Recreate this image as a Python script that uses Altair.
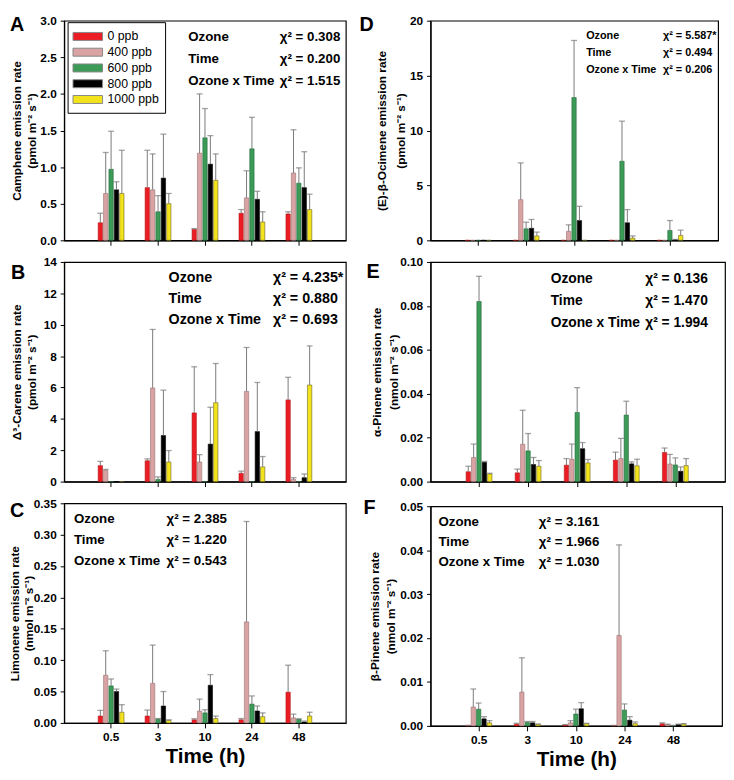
import altair as alt
import pandas as pd

FONT = "Liberation Sans, Arial, Helvetica, sans-serif"

TIMES = ["0.5", "3", "10", "24", "48"]
OZONE = ["0 ppb", "400 ppb", "600 ppb", "800 ppb", "1000 ppb"]
FILLS = ["#ec1c24", "#d9a3a3", "#3b9b57", "#000000", "#f2e31c"]
STROKES = ["#b01818", "#9a7070", "#22663a", "#000000", "#6b6420"]
STAT_TERMS = ["Ozone", "Time", "Ozone x Time"]

# ---- A: Camphene (pmol m-2 s-1); rows = ozone level, cols = time
camphene_mean = [
    [0.24, 0.72, 0.15, 0.37, 0.36],
    [0.64, 0.69, 1.19, 0.58, 0.92],
    [0.97, 0.39, 1.40, 1.25, 0.78],
    [0.69, 0.85, 1.04, 0.56, 0.72],
    [0.64, 0.50, 0.82, 0.25, 0.42],
]
camphene_se = [
    [0.13, 0.51, 0.01, 0.05, 0.03],
    [0.56, 0.49, 0.81, 0.37, 0.59],
    [0.52, 0.22, 0.40, 0.43, 0.21],
    [0.11, 0.60, 0.39, 0.11, 0.49],
    [0.59, 0.14, 0.36, 0.14, 0.21],
]
camphene_chi = ["0.308", "0.200", "1.515"]

# ---- B: delta3-Carene (pmol m-2 s-1)
carene_mean = [
    [1.02, 1.33, 4.38, 0.53, 5.21],
    [0.72, 5.97, 1.25, 5.75, 0.14],
    [0.0, 0.14, 0.0, 0.0, 0.0],
    [0.0, 2.94, 2.39, 3.19, 0.25],
    [0.0, 1.25, 5.03, 0.94, 6.16],
]
carene_se = [
    [0.27, 0.12, 2.94, 0.14, 1.44],
    [0.06, 3.73, 0.47, 2.80, 0.11],
    [0.0, 0.16, 0.0, 0.0, 0.0],
    [0.0, 2.89, 2.35, 3.13, 0.24],
    [0.0, 0.73, 2.50, 0.66, 2.49],
]
carene_chi = ["4.235*", "0.880", "0.693"]

# ---- C: Limonene (nmol m-2 s-1)
limonene_mean = [
    [0.011, 0.011, 0.005, 0.005, 0.049],
    [0.076, 0.063, 0.019, 0.161, 0.008],
    [0.059, 0.006, 0.016, 0.030, 0.006],
    [0.050, 0.027, 0.060, 0.019, 0.0015],
    [0.017, 0.004, 0.007, 0.010, 0.011],
]
limonene_se = [
    [0.009, 0.0095, 0.0017, 0.002, 0.043],
    [0.039, 0.061, 0.019, 0.160, 0.006],
    [0.011, 0.001, 0.005, 0.013, 0.0005],
    [0.004, 0.023, 0.017, 0.008, 0.0015],
    [0.012, 0.001, 0.004, 0.006, 0.006],
]
limonene_chi = ["2.385", "1.220", "0.543"]

# ---- D: (E)-beta-Ocimene (pmol m-2 s-1)
ocimene_mean = [
    [0.0, 0.0, 0.0, 0.0, 0.0],
    [0.0, 3.70, 0.82, 0.0, 0.0],
    [0.0, 1.05, 13.0, 7.20, 0.90],
    [0.0, 1.10, 1.80, 1.60, 0.05],
    [0.0, 0.40, 0.0, 0.20, 0.45],
]
ocimene_se = [
    [0.0, 0.0, 0.0, 0.0, 0.0],
    [0.0, 3.35, 0.59, 0.0, 0.0],
    [0.0, 0.60, 5.20, 3.65, 0.90],
    [0.0, 0.80, 1.30, 1.20, 0.03],
    [0.0, 0.35, 0.0, 0.20, 0.47],
]
ocimene_chi = ["5.587*", "0.494", "0.206"]

# ---- E: alpha-Pinene (nmol m-2 s-1)
apinene_mean = [
    [0.0045, 0.0040, 0.0075, 0.0098, 0.0133],
    [0.0110, 0.0170, 0.0102, 0.0105, 0.0080],
    [0.0820, 0.0140, 0.0315, 0.0303, 0.0076],
    [0.0088, 0.0078, 0.0150, 0.0081, 0.0047],
    [0.0035, 0.0070, 0.0085, 0.0072, 0.0073],
]
apinene_se = [
    [0.0025, 0.0017, 0.0030, 0.0036, 0.0020],
    [0.0061, 0.0155, 0.0069, 0.0092, 0.0044],
    [0.0115, 0.0079, 0.0113, 0.0063, 0.0032],
    [0.0004, 0.0032, 0.0028, 0.0009, 0.0020],
    [0.0003, 0.0026, 0.0016, 0.0030, 0.0032],
]
apinene_chi = ["0.136", "1.470", "1.994"]

# ---- F: beta-Pinene (nmol m-2 s-1)
bpinene_mean = [
    [0.0001, 0.0004, 0.0002, 0.0001, 0.0005],
    [0.0043, 0.0077, 0.0007, 0.0206, 0.0003],
    [0.0038, 0.0008, 0.0027, 0.0036, 0.0001],
    [0.0016, 0.0007, 0.0039, 0.0013, 0.0003],
    [0.0007, 0.0004, 0.0005, 0.0005, 0.0004],
]
bpinene_se = [
    [0.0, 0.0002, 0.0001, 0.0, 0.0002],
    [0.0041, 0.0078, 0.0005, 0.0206, 0.0001],
    [0.0014, 0.0002, 0.0011, 0.0014, 0.0],
    [0.0005, 0.0003, 0.0014, 0.0008, 0.0001],
    [0.0005, 0.0, 0.0001, 0.0004, 0.0001],
]
bpinene_chi = ["3.161", "1.966", "1.030"]

SWATCH = "M-1,-0.27H1V0.27H-1Z"
ONE = pd.DataFrame({"k": [0]})


def long_df(means, ses):
    rows = []
    for oi, oz in enumerate(OZONE):
        for ti, t in enumerate(TIMES):
            rows.append({"time": t, "ozone": oz, "mean": means[oi][ti], "se": ses[oi][ti]})
    return pd.DataFrame(rows)


def panel(p):
    df = long_df(p["mean"], p["se"])
    if p["bottom"]:
        xaxis = alt.Axis(labels=True, title="Time (h)", labelAngle=0, tickSize=5,
                         labelPadding=4, titleFontSize=21, titlePadding=3,
                         labelFontSize=12)
    else:
        xaxis = alt.Axis(labels=False, title=None, tickSize=5)
    x = alt.X("time:N", sort=TIMES,
              scale=alt.Scale(paddingInner=0.45, paddingOuter=0.725), axis=xaxis)
    xo = alt.XOffset("ozone:N", sort=OZONE,
                     scale=alt.Scale(paddingInner=0.2, paddingOuter=0.0))
    yscale = alt.Scale(domain=[0, p["ymax"]], nice=False, zero=True)
    fill = alt.Fill("ozone:N", sort=OZONE,
                    scale=alt.Scale(domain=OZONE, range=FILLS), legend=None)
    stroke = alt.Stroke("ozone:N", sort=OZONE,
                        scale=alt.Scale(domain=OZONE, range=STROKES), legend=None)
    yaxis = alt.Axis(values=p["yvals"], format=p["fmt"], title=p["ytitle"],
                     titleX=p["titleX"], titleLineHeight=p["tlh"], grid=False,
                     tickSize=4, labelPadding=4)

    base = alt.Chart(df)
    bars = base.mark_bar(strokeWidth=0.6).encode(
        x=x, xOffset=xo, y=alt.Y("mean:Q", scale=yscale, axis=yaxis),
        fill=fill, stroke=stroke)
    errs = base.transform_filter("datum.mean > 0").transform_calculate(
        upper="datum.mean + datum.se")
    rule = errs.mark_rule(color="#7a7a7a", strokeWidth=1).encode(
        x=x, xOffset=xo, y=alt.Y("mean:Q", scale=yscale, axis=yaxis), y2="upper:Q")
    cap = errs.mark_tick(color="#7a7a7a", thickness=1.3, size=6).encode(
        x=x, xOffset=xo, y=alt.Y("upper:Q", scale=yscale, axis=yaxis))

    a = p["ann"]
    labs = alt.Chart(ONE).mark_text(
        text="\n".join(STAT_TERMS), lineBreak="\n", align="left", baseline="middle",
        font=FONT, fontSize=a["fs"], fontWeight="bold", lineHeight=a["lh"],
        color="black").encode(x=alt.value(a["lx"]), y=alt.value(a["y0"]))
    chis = alt.Chart(ONE).mark_text(
        text="\n".join("\u03c7\u00b2 = " + v for v in p["chi"]), lineBreak="\n",
        align="left", baseline="middle", font=FONT, fontSize=a["fs"],
        fontWeight="bold", lineHeight=a["lh"], color="black").encode(
        x=alt.value(a["cx"]), y=alt.value(a["y0"]))
    letter = alt.Chart(ONE).mark_text(
        text=p["letter"], align="left", baseline="top", font=FONT, fontSize=20,
        fontWeight="bold", color="black").encode(
        x=alt.value(p["letterX"]), y=alt.value(p["letterY"]))

    inner = alt.layer(bars, rule, cap, labs, chis, letter)

    if p.get("legend"):
        leg_df = pd.DataFrame({"ozone": OZONE})
        ly = alt.Y("ozone:N", sort=OZONE,
                   scale=alt.Scale(type="point", domain=OZONE, range=[16, 80], padding=0),
                   axis=None)
        box = alt.Chart(ONE).mark_rect(fill="white", stroke="black", strokeWidth=1).encode(
            x=alt.value(4), x2=alt.value(103), y=alt.value(2), y2=alt.value(94))
        sym = alt.Chart(leg_df).mark_point(
            shape=SWATCH, size=900, filled=True, opacity=1, stroke="#888888",
            strokeWidth=1).encode(x=alt.value(24), y=ly, fill=fill)
        txt = alt.Chart(leg_df).mark_text(
            align="left", baseline="middle", font=FONT, fontSize=12.5,
            color="black").encode(x=alt.value(44), y=ly, text="ozone:N")
        out = alt.layer(inner, alt.layer(box, sym, txt)).resolve_scale(y="independent")
    else:
        out = inner
    return out.properties(width=p["w"], height=p["h"])


PM = "(pmol m\u207b\u00b2 s\u207b\u00b9)"
NM = "(nmol m\u207b\u00b2 s\u207b\u00b9)"
H = 223

pA = panel(dict(letter="A", letterX=-55, letterY=-6, mean=camphene_mean, se=camphene_se,
                ymax=3.0, yvals=[0, 0.5, 1.0, 1.5, 2.0, 2.5, 3.0], fmt=".1f",
                ytitle=["Camphene emission rate", PM], titleX=-41, tlh=15,
                chi=camphene_chi, ann=dict(lx=126, cx=219, y0=17, lh=22, fs=13.5),
                w=286, h=H, bottom=False, legend=True))
pB = panel(dict(letter="B", letterX=-54, letterY=1.5, mean=carene_mean, se=carene_se,
                ymax=14, yvals=[0, 2, 4, 6, 8, 10, 12, 14], fmt="d",
                ytitle=["\u0394\u00b3-Carene emission rate", PM], titleX=-41, tlh=15,
                chi=carene_chi, ann=dict(lx=106, cx=212, y0=16, lh=21.5, fs=14.5),
                w=286, h=H, bottom=False))
pC = panel(dict(letter="C", letterX=-55, letterY=-2.5, mean=limonene_mean, se=limonene_se,
                ymax=0.35, yvals=[0, 0.05, 0.10, 0.15, 0.20, 0.25, 0.30, 0.35], fmt=".2f",
                ytitle=["Limonene emission rate", NM], titleX=-43, tlh=14,
                chi=limonene_chi, ann=dict(lx=10, cx=104, y0=16, lh=21.5, fs=13.5),
                w=286, h=H, bottom=True))
pD = panel(dict(letter="D", letterX=-72, letterY=-5.5, mean=ocimene_mean, se=ocimene_se,
                ymax=20, yvals=[0, 5, 10, 15, 20], fmt="d",
                ytitle=["(E)-\u03b2-Ocimene emission rate", PM], titleX=-43, tlh=20,
                chi=ocimene_chi, ann=dict(lx=158, cx=236, y0=16, lh=17, fs=11),
                w=292, h=H, bottom=False))
pE = panel(dict(letter="E", letterX=-65, letterY=0.5, mean=apinene_mean, se=apinene_se,
                ymax=0.10, yvals=[0, 0.02, 0.04, 0.06, 0.08, 0.10], fmt=".2f",
                ytitle=["\u03b1-Pinene emission rate", NM], titleX=-48, tlh=17,
                chi=apinene_chi, ann=dict(lx=122, cx=218, y0=17, lh=22.5, fs=14),
                w=299, h=H, bottom=False))
pF = panel(dict(letter="F", letterX=-68, letterY=-8.5, mean=bpinene_mean, se=bpinene_se,
                ymax=0.05, yvals=[0, 0.01, 0.02, 0.03, 0.04, 0.05], fmt=".2f",
                ytitle=["\u03b2-Pinene emission rate", NM], titleX=-50, tlh=16,
                chi=bpinene_chi, ann=dict(lx=8, cx=110, y0=16, lh=20.5, fs=13.5),
                w=296, h=H, bottom=True))

left = alt.vconcat(pA, pB, pC, spacing=8)
right = alt.vconcat(pD, pE, pF, spacing=8)

chart = (
    alt.hconcat(left, right, spacing=12)
    .properties(padding={"left": 0, "right": 0, "top": 0, "bottom": 0})
    .configure_view(stroke="black", strokeWidth=1.2)
    .configure_axis(domainColor="black", domainWidth=1.2, tickColor="black",
                    tickWidth=1, labelFont=FONT, labelFontSize=12,
                    labelFontWeight="bold", labelColor="black", titleFont=FONT,
                    titleFontWeight="bold", titleColor="black", titleFontSize=12,
                    grid=False)
)

chart.save("out.html", embed_options={"renderer": "svg", "actions": False})
